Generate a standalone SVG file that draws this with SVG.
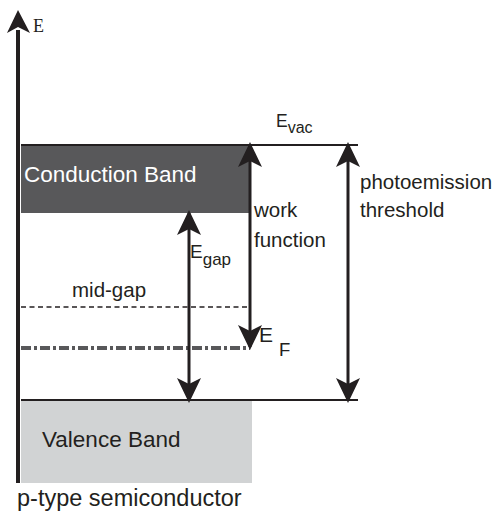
<svg xmlns="http://www.w3.org/2000/svg" width="494" height="513" viewBox="0 0 494 513">
<defs>
<marker id="ah" markerUnits="userSpaceOnUse" markerWidth="26" markerHeight="26" viewBox="-25 -13 26 26" refX="-3" refY="0" orient="auto-start-reverse">
<path d="M0,0 L-25,-12 L-19,0 L-25,12 Z" fill="#231f20"/>
</marker>
<style>
.ln{stroke:#231f20;fill:none}
.arr{stroke:#231f20;stroke-width:3;fill:none;marker-start:url(#ah);marker-end:url(#ah)}
.t{font-family:"Liberation Sans",Arial,sans-serif;fill:#231f20}
</style>
</defs>
<g id="conduction-band">
<rect x="21" y="145" width="229" height="68" fill="#58585a"/>
<text class="t" x="24" y="182" font-size="22.5" style="fill:#ffffff">Conduction Band</text>
</g>
<g id="valence-band">
<rect x="21" y="400" width="231" height="83" fill="#d1d3d4"/>
<text class="t" x="42" y="447" font-size="22.5">Valence Band</text>
</g>
<g id="levels">
<line class="ln" x1="21" y1="145" x2="358" y2="145" stroke-width="2"/>
<line class="ln" x1="21" y1="400" x2="358" y2="400" stroke-width="2"/>
<line class="ln" x1="21" y1="307" x2="250" y2="307" stroke-width="1.6" stroke-dasharray="5,3.5"/>
<line x1="21" y1="348" x2="250" y2="348" stroke="#58585a" stroke-width="4" stroke-dasharray="10,3,3,3"/>
</g>
<g id="axis">
<line class="ln" x1="18" y1="30" x2="18" y2="483" stroke-width="4"/>
<path d="M18,10 L7,33 L18,27 L30,33 Z" fill="#231f20"/>
<text x="33" y="32" font-family="'Liberation Serif','Times New Roman',serif" font-size="18" fill="#231f20">E</text>
</g>
<g id="connectors">
<line class="arr" x1="250" y1="145" x2="250" y2="347"/>
<line class="arr" x1="189" y1="213" x2="189" y2="400"/>
<line class="arr" x1="348" y1="145" x2="348" y2="400"/>
</g>
<g id="labels">
<text class="t" x="276" y="127" font-size="17.5">E<tspan font-size="16" dy="6">vac</tspan></text>
<text class="t" x="254" y="217" font-size="20.5">work</text>
<text class="t" x="254" y="247" font-size="20.5">function</text>
<text class="t" x="360" y="189" font-size="20.5">photoemission</text>
<text class="t" x="360" y="217" font-size="20.5">threshold</text>
<text class="t" x="190" y="258" font-size="19">E<tspan font-size="17" dy="7">gap</tspan></text>
<text class="t" x="72" y="297" font-size="20.5">mid-gap</text>
<text class="t" x="259" y="342" font-size="21">E</text>
<text class="t" x="279" y="356" font-size="18.5">F</text>
<text class="t" x="17" y="506" font-size="23.5">p-type semiconductor</text>
</g>
</svg>
